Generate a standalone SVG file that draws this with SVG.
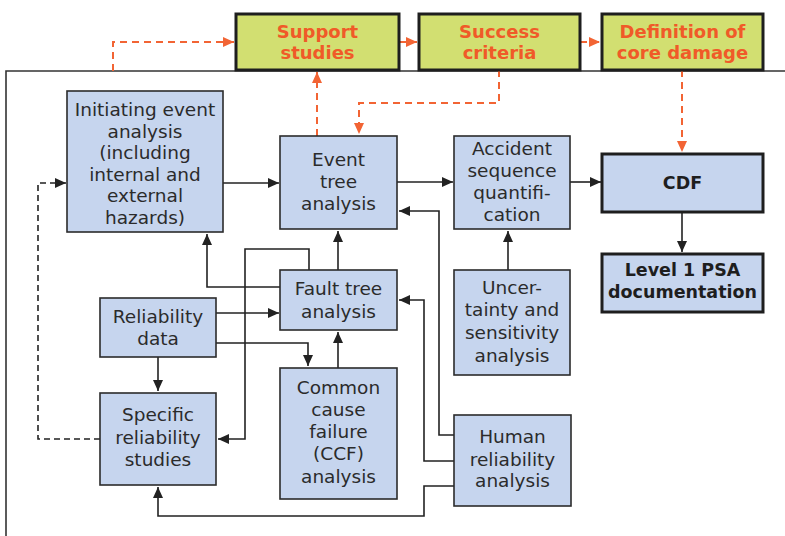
<svg xmlns="http://www.w3.org/2000/svg" width="785" height="536" viewBox="0 0 785 536">
<defs>
<style>
.box{fill:#c6d5ee;stroke:#2b2b2b;stroke-width:1.6}
.tbox{fill:#c6d5ee;stroke:#1e1e1e;stroke-width:3}
.gbox{fill:#d2df71;stroke:#1e1e1e;stroke-width:3}
.t{font-family:"DejaVu Sans","Noto Sans",sans-serif;font-size:18.5px;fill:#2b2b2b;text-anchor:middle}
.b{font-family:"DejaVu Sans","Noto Sans",sans-serif;font-size:17.5px;font-weight:bold;fill:#1e1e1e;text-anchor:middle}
.o{font-family:"DejaVu Sans","Noto Sans",sans-serif;font-size:18px;font-weight:bold;fill:#f05a28;text-anchor:middle}
.c{fill:none;stroke:#222;stroke-width:1.6}
.d{fill:none;stroke:#222;stroke-width:1.6;stroke-dasharray:6 4}
.od{fill:none;stroke:#f26434;stroke-width:2;stroke-dasharray:7 5}
</style>
<marker id="ab" markerWidth="12" markerHeight="10" refX="11" refY="5" orient="auto" markerUnits="userSpaceOnUse">
<path d="M0,0 L11,5 L0,10 Z" fill="#222"/>
</marker>
<marker id="ao" markerWidth="12" markerHeight="10" refX="11" refY="5" orient="auto" markerUnits="userSpaceOnUse">
<path d="M0,0 L11,5 L0,10 Z" fill="#f26434"/>
</marker>
</defs>
<rect width="785" height="536" fill="#ffffff"/>
<g id="frame">
<path d="M6,536 V71 H785" fill="none" stroke="#333" stroke-width="1.6"/>
</g>
<g id="connectors">
<path class="od" d="M113,71 V42 H234" marker-end="url(#ao)"/>
<path class="od" d="M400,42 H417" marker-end="url(#ao)"/>
<path class="od" d="M580,42 H600" marker-end="url(#ao)"/>
<path class="od" d="M317,136 V72" marker-end="url(#ao)"/>
<path class="od" d="M499,70 V103 H359 V134" marker-end="url(#ao)"/>
<path class="od" d="M682,70 V152" marker-end="url(#ao)"/>
<path class="c" d="M223,183 H279" marker-end="url(#ab)"/>
<path class="c" d="M397,182 H453" marker-end="url(#ab)"/>
<path class="c" d="M570,182 H601" marker-end="url(#ab)"/>
<path class="c" d="M682,212 V252" marker-end="url(#ab)"/>
<path class="c" d="M508,270 V231" marker-end="url(#ab)"/>
<path class="c" d="M338,270 V231" marker-end="url(#ab)"/>
<path class="c" d="M280,287 H207 V234" marker-end="url(#ab)"/>
<path class="c" d="M309,270 V249 H245 V439 H218" marker-end="url(#ab)"/>
<path class="c" d="M216,313 H279" marker-end="url(#ab)"/>
<path class="c" d="M216,343 H308 V366" marker-end="url(#ab)"/>
<path class="c" d="M158,357 V391" marker-end="url(#ab)"/>
<path class="c" d="M338,368 V332" marker-end="url(#ab)"/>
<path class="c" d="M454,435 H439 V211 H399" marker-end="url(#ab)"/>
<path class="c" d="M454,461 H424 V300 H399" marker-end="url(#ab)"/>
<path class="c" d="M454,486 H424 V516 H158 V487" marker-end="url(#ab)"/>
<path class="d" d="M100,439 H38 V183 H66" marker-end="url(#ab)"/>
</g>
<g id="support-studies">
<rect class="gbox" x="236" y="14" width="163" height="56"/>
<text class="o" x="317.5" y="38">Support</text>
<text class="o" x="317.5" y="59">studies</text>
</g>
<g id="success-criteria">
<rect class="gbox" x="419" y="14" width="161" height="56"/>
<text class="o" x="499.5" y="38">Success</text>
<text class="o" x="499.5" y="59">criteria</text>
</g>
<g id="definition-core-damage">
<rect class="gbox" x="602" y="14" width="161" height="56"/>
<text class="o" x="682.5" y="38">Definition of</text>
<text class="o" x="682.5" y="59">core damage</text>
</g>
<g id="initiating-event">
<rect class="box" x="67" y="91" width="156" height="141"/>
<text class="t" x="145" y="116">Initiating event</text>
<text class="t" x="145" y="137.5">analysis</text>
<text class="t" x="145" y="159">(including</text>
<text class="t" x="145" y="180.5">internal and</text>
<text class="t" x="145" y="202">external</text>
<text class="t" x="145" y="223.5">hazards)</text>
</g>
<g id="event-tree">
<rect class="box" x="280" y="136" width="117" height="93"/>
<text class="t" x="338.5" y="166">Event</text>
<text class="t" x="338.5" y="188">tree</text>
<text class="t" x="338.5" y="210">analysis</text>
</g>
<g id="accident-sequence">
<rect class="box" x="454" y="136" width="116" height="93"/>
<text class="t" x="512" y="155">Accident</text>
<text class="t" x="512" y="177">sequence</text>
<text class="t" x="512" y="199">quantifi-</text>
<text class="t" x="512" y="221">cation</text>
</g>
<g id="cdf">
<rect class="tbox" x="602" y="154" width="161" height="58"/>
<text class="b" x="682.5" y="189">CDF</text>
</g>
<g id="level1-psa">
<rect class="tbox" x="602" y="254" width="161" height="58"/>
<text class="b" x="682.5" y="276">Level 1 PSA</text>
<text class="b" x="682.5" y="298">documentation</text>
</g>
<g id="fault-tree">
<rect class="box" x="280" y="270" width="117" height="60"/>
<text class="t" x="338.5" y="295">Fault tree</text>
<text class="t" x="338.5" y="318">analysis</text>
</g>
<g id="reliability-data">
<rect class="box" x="100" y="298" width="116" height="59"/>
<text class="t" x="158" y="323">Reliability</text>
<text class="t" x="158" y="345">data</text>
</g>
<g id="specific-reliability">
<rect class="box" x="100" y="393" width="116" height="92"/>
<text class="t" x="158" y="421">Specific</text>
<text class="t" x="158" y="444">reliability</text>
<text class="t" x="158" y="466">studies</text>
</g>
<g id="ccf">
<rect class="box" x="280" y="368" width="117" height="131"/>
<text class="t" x="338.5" y="394">Common</text>
<text class="t" x="338.5" y="416">cause</text>
<text class="t" x="338.5" y="438">failure</text>
<text class="t" x="338.5" y="460">(CCF)</text>
<text class="t" x="338.5" y="483">analysis</text>
</g>
<g id="uncertainty">
<rect class="box" x="454" y="270" width="116" height="105"/>
<text class="t" x="512" y="294">Uncer-</text>
<text class="t" x="512" y="316">tainty and</text>
<text class="t" x="512" y="339">sensitivity</text>
<text class="t" x="512" y="362">analysis</text>
</g>
<g id="human-reliability">
<rect class="box" x="454" y="415" width="117" height="91"/>
<text class="t" x="512.5" y="443">Human</text>
<text class="t" x="512.5" y="466">reliability</text>
<text class="t" x="512.5" y="487">analysis</text>
</g>
</svg>
